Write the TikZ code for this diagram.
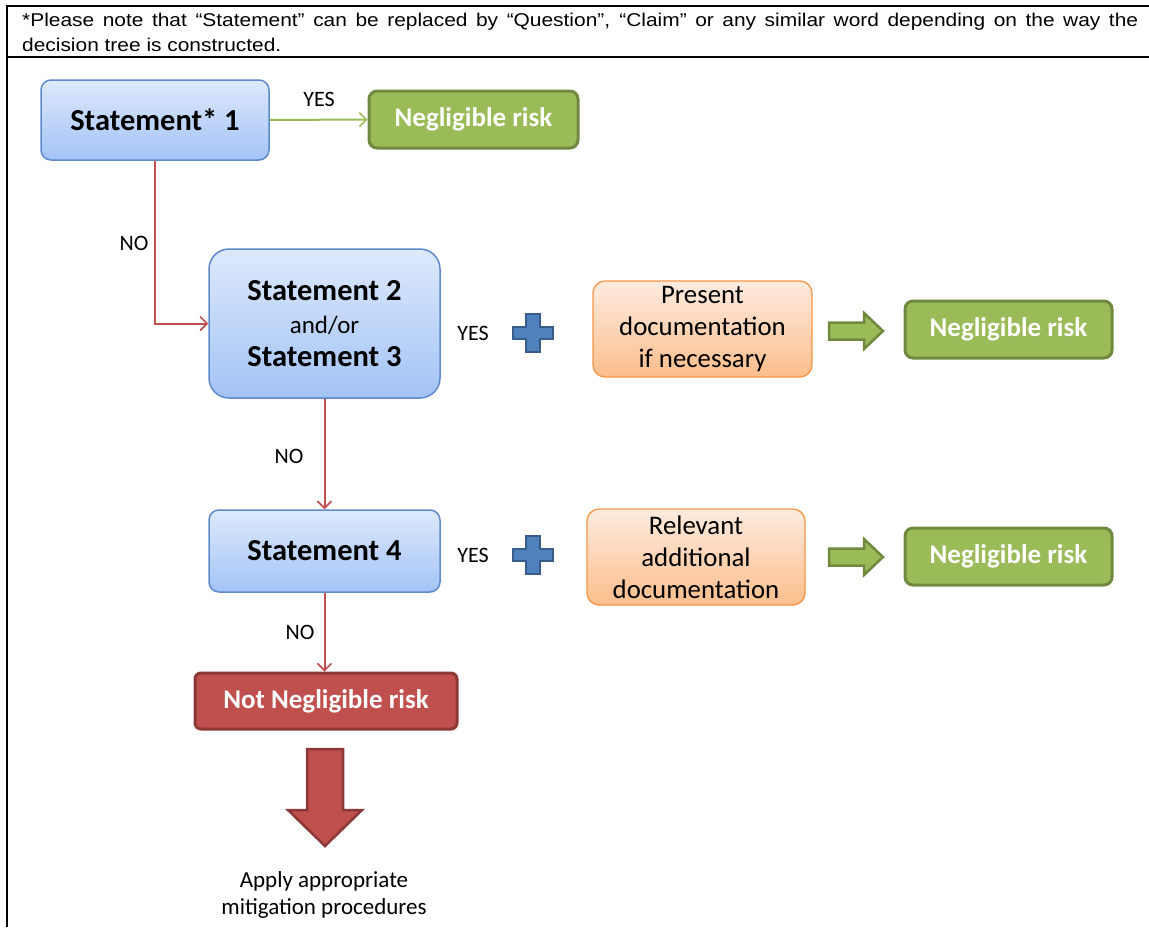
\documentclass[tikz,border=0pt]{standalone}
\usepackage{fontspec}
\setmainfont{Carlito}
\newfontfamily\notefont[FakeStretch=1.13]{Liberation Sans}
\usetikzlibrary{arrows.meta}

\definecolor{blueTop}{HTML}{DDE9FC}
\definecolor{blueBot}{HTML}{A3C3F6}
\definecolor{blueEdge}{HTML}{5E8ACB}
\definecolor{orTop}{HTML}{FEEBDF}
\definecolor{orBot}{HTML}{FBBE8C}
\definecolor{orEdge}{HTML}{F79646}
\definecolor{grFill}{HTML}{9BBB59}
\definecolor{grEdge}{HTML}{71893F}
\definecolor{rdFill}{HTML}{C0504D}
\definecolor{rdEdge}{HTML}{8C3836}
\definecolor{plusFill}{HTML}{4F81BD}
\definecolor{plusEdge}{HTML}{385D8A}

\tikzset{
  stmt/.style={draw=blueEdge, line width=1.5pt, rounded corners=10pt,
    top color=blueTop, bottom color=blueBot, align=center, inner sep=0pt,
    font=\bfseries\fontsize{30.5}{34}\selectfont},
  docbox/.style={draw=orEdge, line width=1.3pt, rounded corners=12pt,
    top color=orTop, bottom color=orBot, align=center, inner sep=0pt,
    font=\fontsize{26.8}{32}\selectfont},
  okbox/.style={draw=grEdge, fill=grFill, line width=3pt, rounded corners=8pt,
    text=white, inner sep=0pt, font=\bfseries\fontsize{27}{30}\selectfont},
  badbox/.style={draw=rdEdge, fill=rdFill, line width=3pt, rounded corners=6pt,
    text=white, inner sep=0pt, font=\bfseries\fontsize{27}{30}\selectfont},
  answer/.style={font=\fontsize{22}{24}\selectfont, inner sep=0pt},
  noline/.style={draw=rdFill, line width=2pt, -{Straight Barb[length=7pt,width=14pt,line width=1.6pt]}},
  yesline/.style={draw=grFill, line width=2pt, -{Straight Barb[length=7pt,width=14pt,line width=1.6pt]}},
  blockgreen/.style={fill=grFill, draw=grEdge, line width=2.5pt, line join=miter},
  blockred/.style={fill=rdFill, draw=rdEdge, line width=2.5pt, line join=miter},
  plussign/.style={fill=plusFill, draw=plusEdge, line width=2pt, line join=miter},
  frame/.style={line width=2pt, draw=black}
}

\begin{document}
\begin{tikzpicture}[x=1pt, y=-1pt]
  \useasboundingbox (0,0) rectangle (1149,927);

  % table frame
  \draw[frame] (7,6) -- (1149,6);
  \draw[frame] (7,57) -- (1149,57);
  \draw[frame] (7,5) -- (7,927);

  % note above the tree
  \node[anchor=north west, inner sep=0pt, text width=1116pt, align=justify,
        font=\notefont\fontsize{18.5}{24.5}\selectfont] (note) at (22,13)
    {*Please note that “Statement” can be replaced by “Question”, “Claim” or any similar word depending on the way the\linebreak decision tree is constructed.};

  % boxes
  \node[stmt, minimum width=228pt, minimum height=80pt] (s1) at (155,120) {Statement* 1};
  \node[okbox, minimum width=209pt, minimum height=57pt] (n1) at (473.5,119.5) {Negligible risk};

  \node[stmt, rounded corners=20pt, minimum width=231pt, minimum height=149pt] (s23) at (324.5,323.5)
    {Statement 2\\[-1pt]{\mdseries\fontsize{25}{30}\selectfont and/or}\\[-1pt]Statement 3};
  \node[docbox, minimum width=219pt, minimum height=96pt] (doc1) at (702.5,329)
    {Present\\documentation\\if necessary};
  \node[okbox, minimum width=207pt, minimum height=57pt] (n2) at (1008.5,329.5) {Negligible risk};

  \node[stmt, minimum width=231pt, minimum height=82pt] (s4) at (324.5,551) {Statement 4};
  \node[docbox, minimum width=218pt, minimum height=96pt] (doc2) at (696,557)
    {Relevant\\additional\\documentation};
  \node[okbox, minimum width=207pt, minimum height=57pt] (n3) at (1008.5,556.5) {Negligible risk};

  \node[badbox, minimum width=262pt, minimum height=56pt] (nn) at (326,701) {Not Negligible risk};

  \node[align=center, inner sep=0pt, font=\fontsize{23}{27}\selectfont] (apply) at (324,895)
    {Apply appropriate\\mitigation procedures};

  % connectors
  \draw[yesline] (s1.east) -- (n1.west);
  \draw[noline] (s1.south) |- (s23.west);
  \draw[noline] (s23.south) -- (s4.north);
  \draw[noline] (s4.south) -- (s4.south |- nn.north);

  % answer labels
  \node[answer] (yes1) at (319,99) {YES};
  \node[answer] (no1) at (134,243) {NO};
  \node[answer] (yes2) at (473,333) {YES};
  \node[answer] (no2) at (289,456) {NO};
  \node[answer] (yes3) at (473,555) {YES};
  \node[answer] (no3) at (300,632) {NO};

  % plus signs
  \foreach \cy in {333,555} {
    \draw[plussign] (526,\cy-19) -- (540,\cy-19) -- (540,\cy-6) -- (553,\cy-6)
      -- (553,\cy+6) -- (540,\cy+6) -- (540,\cy+19) -- (526,\cy+19)
      -- (526,\cy+6) -- (513,\cy+6) -- (513,\cy-6) -- (526,\cy-6) -- cycle;
  }

  % block arrows towards the negligible-risk boxes
  \foreach \cy in {331,557} {
    \draw[blockgreen] (829,\cy-8.5) -- (864,\cy-8.5) -- (864,\cy-18) -- (883,\cy)
      -- (864,\cy+18) -- (864,\cy+8.5) -- (829,\cy+8.5) -- cycle;
  }

  % big arrow down to the mitigation text
  \draw[blockred] (307,749) -- (343,749) -- (343,810) -- (362,810) -- (325,846)
    -- (288,810) -- (307,810) -- cycle;
\end{tikzpicture}
\end{document}
